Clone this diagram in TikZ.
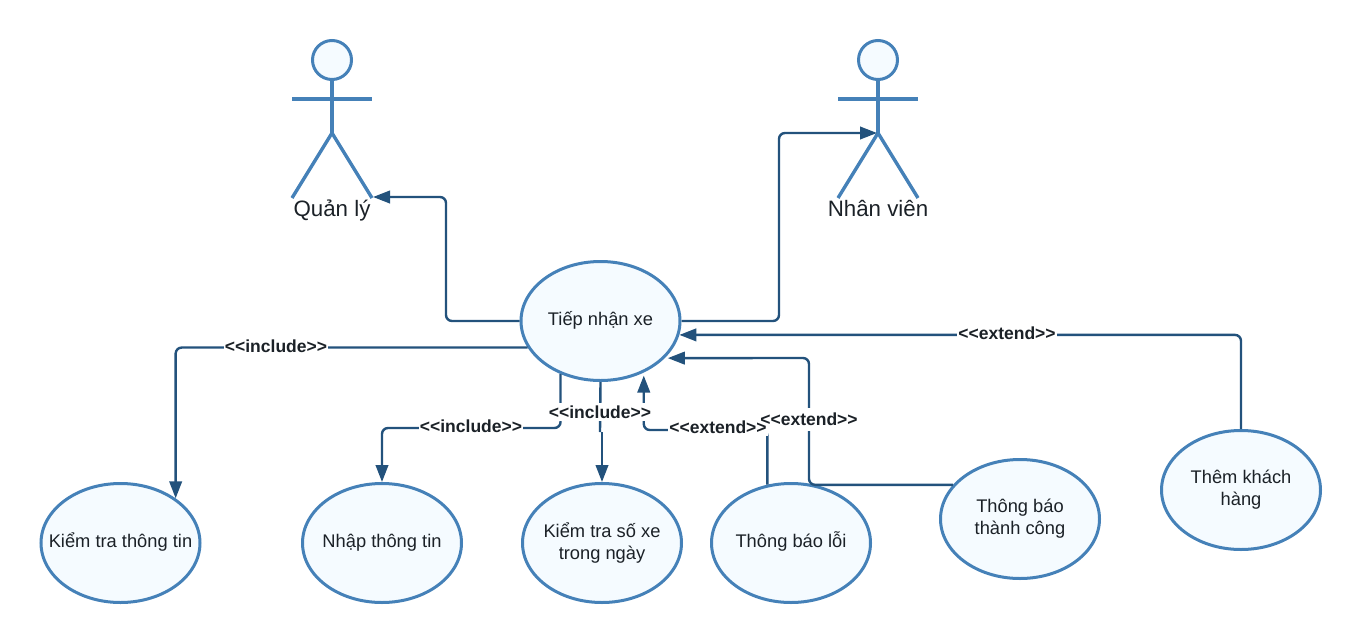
\documentclass[tikz,border=0pt]{standalone}
\usepackage{fontspec}
\setmainfont{Liberation Sans}
\usetikzlibrary{
  arrows.meta,
  calc,
  shapes.geometric
}
\definecolor{shapeblue}{HTML}{4581B8}
\definecolor{shapefill}{HTML}{F5FBFF}
\definecolor{linkblue}{HTML}{23527C}
\definecolor{inkdark}{HTML}{1B2127}

\begin{document}
\begin{tikzpicture}[
    x=1pt, y=-1pt,
    usecase/.style={
      ellipse,
      draw=shapeblue, fill=shapefill,
      line width=3pt,
      minimum width=159pt,
      minimum height=119pt,
      inner sep=-20pt,
      align=center,
      text=inkdark,
      font=\fontsize{18.3}{22}\selectfont
      },
    oneline/.style={usecase, text height=14pt, text depth=6pt},
    head/.style={
      circle,
      draw=shapeblue, fill=shapefill,
      line width=3pt,
      minimum size=39pt,
      inner sep=0pt
      },
    limb/.style={draw=shapeblue, line width=3.4pt},
    actorname/.style={anchor=base, text=inkdark, inner sep=0pt, font=\fontsize{22.3}{26}\selectfont},
    link/.style={draw=linkblue, line width=2.4pt, rounded corners=6pt},
    flow/.style={link, -{Triangle[length=17pt,width=12.5pt]}},
    stereo/.style={fill=white, text=inkdark, inner xsep=1pt, inner ysep=3pt, font=\bfseries\fontsize{17.5}{19}\selectfont}
    ]

\useasboundingbox (0,0) rectangle (1361,643);

% actors
\foreach \who/\x/\name in {manager/332/Quản lý, staff/878/Nhân viên} {
  \coordinate (\who-hip) at (\x,133);
  \coordinate (\who-lhand) at (\x-40,99);
  \coordinate (\who-rhand) at (\x+40,99);
  \coordinate (\who-lfoot) at (\x-40,198);
  \coordinate (\who-rfoot) at (\x+40,198);
  \node [head] (\who-head) at (\x,60) {};
  \draw [limb] (\who-head.south) -- (\who-hip);
  \draw [limb] (\who-lhand) -- (\who-rhand);
  \draw [limb] (\who-lfoot) -- (\who-hip) -- (\who-rfoot);
  \node [actorname] (\who-name) at (\x,216) {\name};
}

% use cases
\node [oneline] (intake) at (600.5,321) {Tiếp nhận xe};
\node [oneline] (verify) at (120.5,543) {Kiểm tra thông tin};
\node [oneline] (input)  at (382,543) {Nhập thông tin};
\node [usecase] (count)  at (602,543) {Kiểm tra số xe\\trong ngày};
\node [oneline] (fail)   at (791,543) {Thông báo lỗi};
\node [usecase] (done)   at (1020,519) {Thông báo\\thành công};
\node [usecase] (addnew) at (1241,490) {Thêm khách\\hàng};

% bends
\coordinate (managerbend) at (446,197);
\coordinate (staffbend) at (779,133);
\coordinate (inputbend) at (471,428);
\coordinate (failbend) at (700,430);
\coordinate (donebend) at (809,358);
\coordinate (countjog) at (600,432);

\draw [flow] (intake.west) -| (managerbend) -- ($(manager-rfoot)+(1,-1)$);
\draw [flow, shorten >=1pt] (intake.east) -| (staffbend) -- (staff-hip);
\draw [flow] (addnew.north) |- (intake.350);
\draw [flow] (intake.200) -| (verify.39);
\draw [flow] (intake.233) |- (inputbend) -| (input.north);
\draw [link] (intake.south) -- (countjog);
\draw [flow] (countjog -| count.north) -- (count.north);
\draw [flow, shorten >=3pt] (fail.112) |- (failbend) -| (intake.310);
\draw [flow, shorten >=3pt] (done.153) -| (donebend) -- (intake.330);

% stereotypes
\node [stereo] (inc1) at (276,346) {<{}<include>{}>};
\node [stereo] (inc2) at (471,426) {<{}<include>{}>};
\node [stereo] (inc3) at (600,412) {<{}<include>{}>};
\fill [white] (758,408) rectangle (860,431);
\node [stereo] (ext1) at (718,427) {<{}<extend>{}>};
\node [stereo, fill=none] (ext2) at (809,419) {<{}<extend>{}>};
\node [stereo] (ext3) at (1007,333) {<{}<extend>{}>};
\end{tikzpicture}
\end{document}
